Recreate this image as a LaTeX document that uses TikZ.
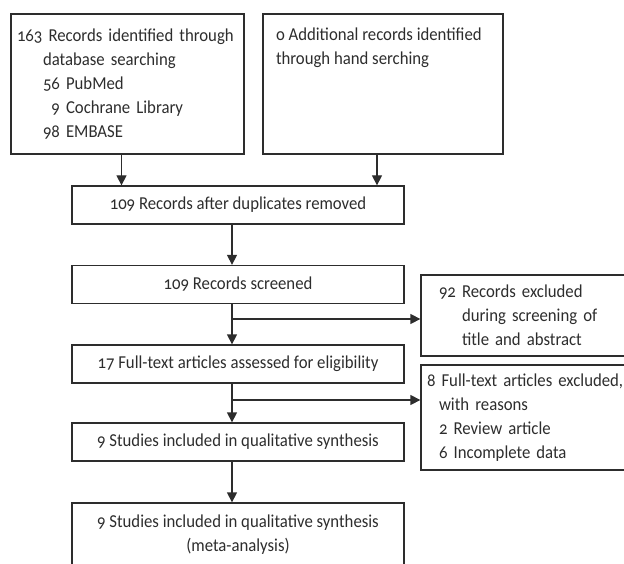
\documentclass[tikz,border=0pt]{standalone}
\usepackage{fontspec}
\setmainfont{Carlito}[Numbers=OldStyle, FakeStretch=0.92]
\usepackage{tikz}
\usetikzlibrary{arrows.meta}
\definecolor{LineGray}{RGB}{45,45,45}
\tikzset{
  fbox/.style={draw=LineGray, line width=1.3pt, inner sep=0pt, text=LineGray,
    font=\fontsize{18.2}{24}\selectfont, align=center, minimum width=332pt, minimum height=38pt},
  lbox/.style={fbox, align=left},
  arr/.style={-{Triangle[width=10pt,length=10pt]}, line width=1.3pt, LineGray},
}

\begin{document}
\begin{tikzpicture}[x=1pt,y=-1pt]
  \useasboundingbox (0,0) rectangle (624,564);
  \clip (0,0) rectangle (624,564);
  % sources
  \node[lbox, inner xsep=6pt, text width=221pt, minimum width=233pt, minimum height=140pt] (db) at (127.5,84)
    {\mbox{163 Records identified through}\\
     \hspace*{26pt}database searching\\
     \hspace*{26pt}56 PubMed\\
     \hspace*{26pt}\phantom{5}9 Cochrane Library\\
     \hspace*{26pt}98 EMBASE};
  \node[fbox, minimum width=240pt, minimum height=140pt] (hand) at (383,84)
    {\parbox[c][112pt][t]{214pt}{\raggedright o Additional records identified\\ through hand serching}};
  % main column
  \node[fbox] (dup) at (238,205) {109 Records after duplicates removed};
  \node[fbox] (scr) at (238,284.5) {109 Records screened};
  \node[fbox] (elig) at (238,364) {17 Full-text articles assessed for eligibility};
  \node[fbox] (qual) at (238,442) {9 Studies included in qualitative synthesis};
  \node[fbox, minimum height=64pt] (meta) at (238,535) {9 Studies included in qualitative synthesis\\ (meta-analysis)};
  % exclusions
  \node[lbox, inner xsep=18pt, text width=203pt, minimum width=239pt, minimum height=81pt] (exa) at (540.5,315.5)
    {92 Records excluded\\
     \hspace*{23pt}during screening of\\
     \hspace*{23pt}title and abstract};
  \node[lbox, inner xsep=6pt, text width=227pt, minimum width=239pt, minimum height=105pt] (exb) at (540.5,417.5)
    {\mbox{8 Full-text articles excluded,}\\
     \hspace*{12pt}with reasons\\
     \hspace*{12pt}2 Review article\\
     \hspace*{12pt}6 Incomplete data};
  % arrows
  \draw[arr] ([xshift=-6pt]db.south) -- ([xshift=-6pt]db.south |- dup.north);
  \draw[arr] ([xshift=-6pt]hand.south) -- ([xshift=-6pt]hand.south |- dup.north);
  \draw[arr] ([xshift=-6pt]dup.south) -- ([xshift=-6pt]scr.north);
  \draw[arr] ([xshift=-6pt]scr.south) -- ([xshift=-6pt]elig.north);
  \draw[arr] ([xshift=-6pt]elig.south) -- ([xshift=-6pt]qual.north);
  \draw[arr] ([xshift=-6pt]qual.south) -- ([xshift=-6pt]meta.north);
  \coordinate (br1) at (232,319);
  \coordinate (br2) at (232,400);
  \draw[arr] (br1) -- (br1 -| exa.west);
  \draw[arr] (br2) -- (br2 -| exb.west);
\end{tikzpicture}
\end{document}
